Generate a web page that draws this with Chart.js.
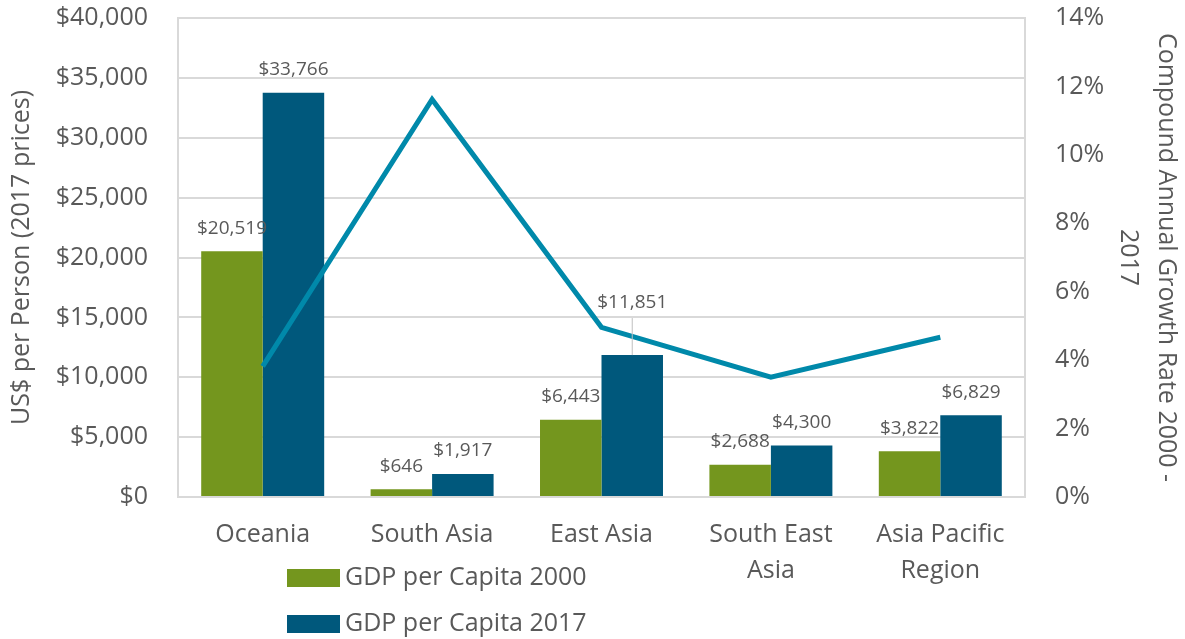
<!DOCTYPE html>
<html>
<head>
<meta charset="utf-8">
<script src="https://cdn.jsdelivr.net/npm/chart.js@4/dist/chart.umd.min.js"></script>
<style>
  html, body { margin: 0; padding: 0; background: #fff; }
  #wrap { position: relative; width: 1185px; height: 639px; }
</style>
</head>
<body>
<div id="wrap"><canvas id="chart"></canvas></div>
<script>
// categories and values
const regions = ['Oceania', 'South Asia', 'East Asia', ['South East', 'Asia'], ['Asia Pacific', 'Region']];
const gdp2000 = [20519, 646, 6443, 2688, 3822];
const gdp2017 = [33766, 1917, 11851, 4300, 6829];
const growthRate = [3.82, 11.62, 4.96, 3.50, 4.67];
const leftTicks = [0, 5000, 10000, 15000, 20000, 25000, 30000, 35000, 40000];
const rightTicks = [0, 2, 4, 6, 8, 10, 12, 14];

const GREEN = '#74961e';
const BLUE = '#00587c';
const TEAL = '#0089aa';
const TEXT = '#595959';
const GRID = '#d9d9d9';
const FONT = "'Open Sans', sans-serif";

const fmtUSD = v => '$' + Number(v).toLocaleString('en-US');

// valores acima das barras (o rótulo de 11,851 sobe com linha guia)
const barLabels = {
  id: 'barLabels',
  afterDatasetsDraw(chart) {
    const ctx = chart.ctx;
    ctx.save();
    ctx.font = '19px ' + FONT;
    ctx.fillStyle = TEXT;
    ctx.textAlign = 'center';
    ctx.textBaseline = 'middle';
    chart.data.datasets.forEach((ds, di) => {
      if (ds.type === 'line') return;
      chart.getDatasetMeta(di).data.forEach((bar, i) => {
        let y = bar.y - 23;
        if (ds.label === 'GDP per Capita 2017' && i === 2) {
          y = bar.y - 52;
          ctx.strokeStyle = '#bfbfbf';
          ctx.lineWidth = 1;
          ctx.beginPath();
          ctx.moveTo(bar.x, y + 15);
          ctx.lineTo(bar.x, bar.y);
          ctx.stroke();
        }
        ctx.fillText(fmtUSD(ds.data[i]), bar.x, y);
      });
    });
    ctx.restore();
  }
};

// legenda vertical no canto inferior esquerdo
const stackedLegend = {
  id: 'stackedLegend',
  afterDraw(chart) {
    const ctx = chart.ctx;
    ctx.save();
    ctx.font = '25px ' + FONT;
    ctx.textBaseline = 'middle';
    ctx.textAlign = 'left';
    const bars = chart.data.datasets.filter(ds => ds.type !== 'line');
    bars.forEach((ds, k) => {
      const cy = 578 + k * 46;
      ctx.fillStyle = ds.backgroundColor;
      ctx.fillRect(287, cy - 9, 53, 18);
      ctx.fillStyle = TEXT;
      ctx.fillText(ds.label, 345, cy);
    });
    ctx.restore();
  }
};

const fitVertical = w => s => { s.width = w; s.paddingTop = 0; s.paddingBottom = 0; };

new Chart(document.getElementById('chart'), {
  type: 'bar',
  data: {
    labels: regions,
    datasets: [
      {
        type: 'line',
        label: 'Compound Annual Growth Rate 2000 - 2017',
        data: growthRate,
        borderColor: TEAL,
        backgroundColor: TEAL,
        borderWidth: 5,
        pointRadius: 0,
        tension: 0,
        yAxisID: 'y1',
        order: 0
      },
      {
        label: 'GDP per Capita 2000',
        data: gdp2000,
        backgroundColor: GREEN,
        yAxisID: 'y',
        order: 1,
        categoryPercentage: 0.726,
        barPercentage: 1.0
      },
      {
        label: 'GDP per Capita 2017',
        data: gdp2017,
        backgroundColor: BLUE,
        yAxisID: 'y',
        order: 1,
        categoryPercentage: 0.726,
        barPercentage: 1.0
      }
    ]
  },
  options: {
    responsive: true,
    maintainAspectRatio: false,
    animation: false,
    layout: { padding: { top: 18, left: 0, right: 0, bottom: 0 } },
    plugins: {
      legend: { display: false },
      tooltip: { enabled: false }
    },
    scales: {
      x: {
        grid: { display: false },
        border: { display: true, color: GRID, width: 2 },
        ticks: {
          color: TEXT,
          font: { family: FONT, size: 25, lineHeight: 1.44 },
          padding: 12,
          maxRotation: 0,
          autoSkip: false
        },
        afterFit: s => { s.height = 142; s.paddingLeft = 0; s.paddingRight = 0; }
      },
      y: {
        position: 'left',
        min: 0,
        max: 40000,
        afterBuildTicks: s => { s.ticks = leftTicks.map(v => ({ value: v })); },
        grid: { color: GRID, lineWidth: 2, drawTicks: false },
        border: { display: true, color: GRID, width: 2 },
        ticks: {
          color: TEXT,
          font: { family: FONT, size: 25 },
          padding: 30,
          callback: v => fmtUSD(v)
        },
        title: {
          display: true,
          text: 'US$ per Person (2017 prices)',
          color: TEXT,
          font: { family: FONT, size: 25, lineHeight: 1.2 },
          padding: { top: 7, bottom: 0 }
        },
        afterFit: fitVertical(178)
      },
      y1: {
        position: 'right',
        min: 0,
        max: 14,
        afterBuildTicks: s => { s.ticks = rightTicks.map(v => ({ value: v })); },
        grid: { drawOnChartArea: false, drawTicks: false },
        border: { display: true, color: GRID, width: 2 },
        ticks: {
          color: TEXT,
          font: { family: FONT, size: 25 },
          padding: 30,
          callback: v => v + '%'
        },
        title: {
          display: true,
          text: ['Compound Annual Growth Rate 2000 -', '2017'],
          color: TEXT,
          font: { family: FONT, size: 25, lineHeight: 1.52 },
          padding: { top: 0, bottom: 0 }
        },
        afterFit: fitVertical(160)
      }
    }
  },
  plugins: [barLabels, stackedLegend]
});
</script>
</body>
</html>
